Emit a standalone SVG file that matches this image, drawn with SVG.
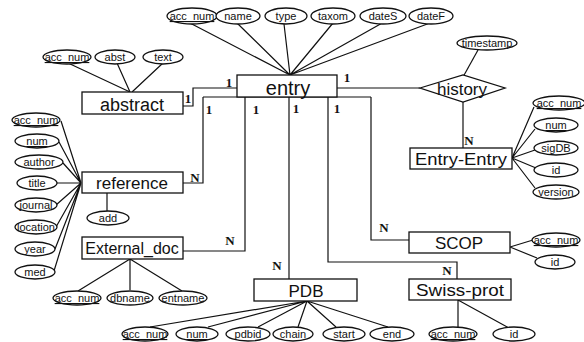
<svg xmlns="http://www.w3.org/2000/svg" width="584" height="342" viewBox="0 0 584 342">
<style>
.box{fill:#fff;stroke:#111;stroke-width:1.3}
.att{fill:#fff;stroke:#111;stroke-width:1.3}
.ln{fill:none;stroke:#111;stroke-width:1.2}
.et{font-family:"Liberation Sans",Arial,sans-serif;font-size:17px;fill:#111;text-anchor:middle}
.at{font-family:"Liberation Sans",Arial,sans-serif;font-size:11px;fill:#111;text-anchor:middle}
.u{text-decoration:underline}
.cd{font-family:"Liberation Serif","Times New Roman",serif;font-size:13px;font-weight:bold;fill:#111;text-anchor:middle}
</style>
<rect width="584" height="342" fill="#fff"/>
<g id="connectors">
<!-- entry attributes -->
<path class="ln" d="M188,22 L290,75 M237,23 L290,75 M284,24 L290,75 M333,23 L290,75 M384,22 L290,75 M430,23 L290,75"/>
<!-- abstract attrs -->
<path class="ln" d="M68,63 L130,92 M117,63 L130,92 M163,63 L132,92"/>
<!-- abstract-entry -->
<path class="ln" d="M183,106 L193,106 L193,88 L237,88"/>
<!-- entry bottom bus -->
<path class="ln" d="M203,97 L371,97"/>
<!-- reference -->
<path class="ln" d="M203,97 L203,183 L183,183"/>
<!-- external doc -->
<path class="ln" d="M245,97 L245,251 L183,251"/>
<!-- PDB -->
<path class="ln" d="M289,97 L289,279"/>
<!-- Swiss-prot -->
<path class="ln" d="M328,97 L328,262 L457,262 L457,279"/>
<!-- SCOP -->
<path class="ln" d="M371,97 L371,240 L409,240"/>
<!-- history -->
<path class="ln" d="M337,88 L420,88"/>
<path class="ln" d="M478,50 L463,77"/>
<path class="ln" d="M463,102 L463,148"/>
<!-- reference attrs -->
<path class="ln" d="M61,121 L81,183 M59,142 L81,183 M63,163 L81,183 M57,183 L81,183 M56,205 L81,183 M56,227 L81,183 M55,249 L81,183 M54,271 L81,183"/>
<path class="ln" d="M107,193 L107,211"/>
<!-- external doc attrs -->
<path class="ln" d="M130,259 L78,291 M130,259 L130,290 M130,259 L182,291"/>
<!-- PDB attrs -->
<path class="ln" d="M307,301 L150,327 M307,301 L208,327 M307,301 L258,327 M307,301 L298,327 M307,301 L336,327 M307,301 L388,327"/>
<!-- Swiss-prot attrs -->
<path class="ln" d="M458,300 L458,327 M458,300 L509,328"/>
<!-- SCOP attrs -->
<path class="ln" d="M510,247 L533,240 M510,247 L537,258"/>
<!-- Entry-Entry attrs -->
<path class="ln" d="M512,158 L534,107 M512,158 L535,129 M512,158 L535,150 M512,158 L536,168 M512,158 L535,188"/>
<!-- cardinalities -->
<text class="cd" x="188" y="103">1</text>
<text class="cd" x="229" y="87">1</text>
<text class="cd" x="347" y="82">1</text>
<text class="cd" x="209" y="114">1</text>
<text class="cd" x="256" y="114">1</text>
<text class="cd" x="296" y="113">1</text>
<text class="cd" x="337" y="113">1</text>
<text class="cd" x="195" y="182">N</text>
<text class="cd" x="230" y="245">N</text>
<text class="cd" x="277" y="270">N</text>
<text class="cd" x="384" y="232">N</text>
<text class="cd" x="447" y="275">N</text>
<text class="cd" x="469" y="145">N</text>
</g>
<g id="entry">
<rect class="box" x="237" y="75" width="100" height="22"/>
<text class="et" x="288" y="95" style="font-size:20px">entry</text>
</g>
<g id="entry-attrs">
<ellipse class="att" cx="192" cy="16" rx="25" ry="8"/><text class="at u" x="192" y="20">acc_num</text>
<ellipse class="att" cx="238" cy="16" rx="22" ry="8"/><text class="at" x="238" y="20">name</text>
<ellipse class="att" cx="286" cy="16" rx="21" ry="8"/><text class="at" x="286" y="20">type</text>
<ellipse class="att" cx="333" cy="16" rx="22" ry="8"/><text class="at" x="333" y="20">taxom</text>
<ellipse class="att" cx="383" cy="16" rx="23" ry="8"/><text class="at" x="383" y="20">dateS</text>
<ellipse class="att" cx="431" cy="16" rx="22" ry="8"/><text class="at" x="431" y="20">dateF</text>
</g>
<g id="abstract">
<rect class="box" x="82" y="92" width="101" height="22"/>
<text class="et" x="132" y="111" style="font-size:18px">abstract</text>
<ellipse class="att" cx="67" cy="57" rx="24" ry="7"/><text class="at u" x="67" y="61">acc_num</text>
<ellipse class="att" cx="115" cy="57" rx="20" ry="7"/><text class="at" x="115" y="61">abst</text>
<ellipse class="att" cx="163" cy="57" rx="20" ry="7"/><text class="at" x="163" y="61">text</text>
</g>
<g id="reference">
<rect class="box" x="82" y="172" width="101" height="21"/>
<text class="et" x="132" y="189">reference</text>
<ellipse class="att" cx="36" cy="120" rx="24" ry="7"/><text class="at u" x="36" y="124">acc_num</text>
<ellipse class="att" cx="37" cy="141" rx="22" ry="7"/><text class="at u" x="37" y="145">num</text>
<ellipse class="att" cx="39" cy="162" rx="24" ry="7"/><text class="at" x="39" y="166">author</text>
<ellipse class="att" cx="37" cy="183" rx="20" ry="7"/><text class="at" x="37" y="187">title</text>
<ellipse class="att" cx="36" cy="205" rx="21" ry="7"/><text class="at" x="36" y="209">journal</text>
<ellipse class="att" cx="36" cy="227" rx="21" ry="7"/><text class="at" x="36" y="231">location</text>
<ellipse class="att" cx="35" cy="249" rx="20" ry="7"/><text class="at" x="35" y="253">year</text>
<ellipse class="att" cx="35" cy="272" rx="20" ry="7"/><text class="at" x="35" y="276">med</text>
<ellipse class="att" cx="108" cy="218" rx="21" ry="7"/><text class="at" x="108" y="222">add</text>
</g>
<g id="external_doc">
<rect class="box" x="82" y="237" width="101" height="22"/>
<text class="et" x="132" y="254" style="font-size:16px">External_doc</text>
<ellipse class="att" cx="77" cy="298" rx="24" ry="7"/><text class="at u" x="77" y="302">acc_num</text>
<ellipse class="att" cx="130" cy="298" rx="23" ry="7"/><text class="at" x="130" y="302">dbname</text>
<ellipse class="att" cx="183" cy="298" rx="24" ry="7"/><text class="at" x="183" y="302">entname</text>
</g>
<g id="pdb">
<rect class="box" x="254" y="279" width="103" height="22"/>
<text class="et" x="306" y="297">PDB</text>
<ellipse class="att" cx="145" cy="334" rx="23" ry="7"/><text class="at u" x="145" y="338">acc_num</text>
<ellipse class="att" cx="197" cy="334" rx="21" ry="7"/><text class="at u" x="197" y="338">num</text>
<ellipse class="att" cx="248" cy="334" rx="22" ry="7"/><text class="at" x="248" y="338">pdbid</text>
<ellipse class="att" cx="293" cy="334" rx="20" ry="7"/><text class="at" x="293" y="338">chain</text>
<ellipse class="att" cx="344" cy="334" rx="21" ry="7"/><text class="at" x="344" y="338">start</text>
<ellipse class="att" cx="392" cy="334" rx="22" ry="7"/><text class="at" x="392" y="338">end</text>
</g>
<g id="scop">
<rect class="box" x="409" y="232" width="101" height="21"/>
<text class="et" x="459" y="249">SCOP</text>
<ellipse class="att" cx="556" cy="240" rx="24" ry="7"/><text class="at u" x="556" y="244">acc_num</text>
<ellipse class="att" cx="555" cy="262" rx="20" ry="7"/><text class="at" x="555" y="266">id</text>
</g>
<g id="swiss-prot">
<rect class="box" x="409" y="279" width="102" height="21"/>
<text class="et" x="460" y="296" textLength="88" lengthAdjust="spacingAndGlyphs">Swiss-prot</text>
<ellipse class="att" cx="453" cy="334" rx="24" ry="7"/><text class="at u" x="453" y="338">acc_num</text>
<ellipse class="att" cx="514" cy="334" rx="21" ry="7"/><text class="at" x="514" y="338">id</text>
</g>
<g id="history">
<polygon class="box" points="420,88 463,75 505,88 463,102"/>
<text class="et" x="462" y="95">history</text>
<ellipse class="att" cx="487" cy="43" rx="30" ry="7"/><text class="at" x="487" y="47">timestamp</text>
</g>
<g id="entry-entry">
<rect class="box" x="410" y="148" width="102" height="21"/>
<text class="et" x="461" y="165" textLength="92" lengthAdjust="spacingAndGlyphs">Entry-Entry</text>
<ellipse class="att" cx="559" cy="103" rx="26" ry="7"/><text class="at u" x="559" y="107">acc_num</text>
<ellipse class="att" cx="556" cy="125" rx="22" ry="7"/><text class="at u" x="556" y="129">num</text>
<ellipse class="att" cx="556" cy="148" rx="22" ry="7"/><text class="at" x="556" y="152">sigDB</text>
<ellipse class="att" cx="556" cy="170" rx="22" ry="7"/><text class="at" x="556" y="174">id</text>
<ellipse class="att" cx="556" cy="192" rx="23" ry="7"/><text class="at" x="556" y="196">version</text>
</g>
</svg>
